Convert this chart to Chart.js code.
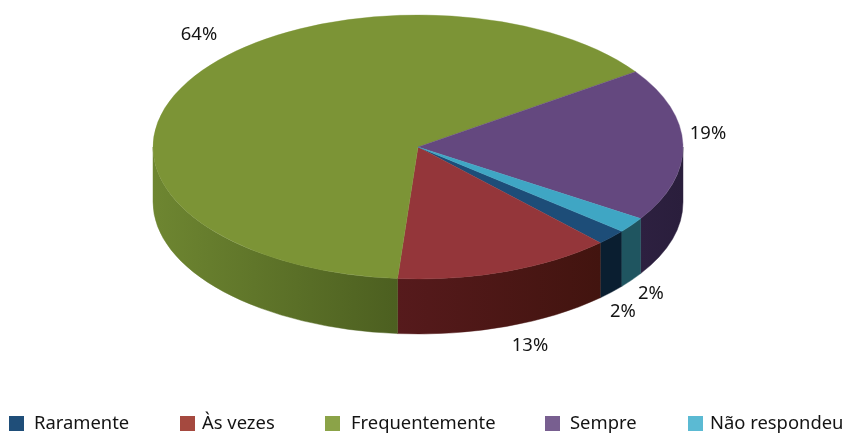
<!DOCTYPE html>
<html>
<head>
<meta charset="utf-8">
<style>
  body { margin: 0; background: #fff; }
</style>
<script src="https://cdn.jsdelivr.net/npm/chart.js@4"></script>
</head>
<body>
<canvas id="grafico" width="845" height="435"></canvas>
<script>
const categorias = ['Raramente', 'Às vezes', 'Frequentemente', 'Sempre', 'Não respondeu']
const valores = [1.9, 13.3, 64.1, 18.8, 1.9]
const rotulos = ['2%', '13%', '64%', '19%', '2%']

const coresTopo = ['#1d4d78', '#94363a', '#7c9436', '#64487f', '#3fa6c4']
const coresLegenda = ['#1f4e79', '#a5493f', '#8ba348', '#785f90', '#5bbad3']
// lateral: [esquerda, direita]
const coresLado = [
    ['#0a1e30', '#0a1e30'],
    ['#561a1c', '#42140f'],
    ['#6e8631', '#4c5f20'],
    ['#2d2040', '#2a1e3c'],
    ['#1f5560', '#1f5560']
]
const posRotulos = [[623, 312], [530, 346], [199, 35], [708, 134], [651, 294]]
const posCaixas = [9, 180, 325, 545, 688]
const posNomes = [34, 202, 351, 570, 710]

const centroX = 418
const centroY = 147
const raio = 265
const achatado = 132 / 265
const altura = 55

const fonte = '18.4px "Noto Sans"'

const pizza3d = {
    id: 'pizza3d',
    beforeDatasetsDraw(chart) {
        const { ctx } = chart
        const arcos = chart.getDatasetMeta(0).data

        ctx.save()
        ctx.translate(centroX - arcos[0].x, centroY)
        ctx.scale(1, achatado)
        ctx.translate(0, -arcos[0].y)

        // so a metade da frente aparece na lateral
        arcos.forEach((arco, i) => {
            const { x, y, startAngle, endAngle, outerRadius } = arco
            ;[0, -2 * Math.PI].forEach((volta) => {
                const de = Math.max(startAngle + volta, 0)
                const ate = Math.min(endAngle + volta, Math.PI)
                if (ate <= de) return

                const x0 = x + outerRadius * Math.cos(ate)
                const x1 = x + outerRadius * Math.cos(de)
                const grad = ctx.createLinearGradient(x0, 0, x1, 0)
                grad.addColorStop(0, coresLado[i][0])
                grad.addColorStop(1, coresLado[i][1])

                ctx.beginPath()
                ctx.arc(x, y, outerRadius, de, ate)
                ctx.arc(x, y + altura / achatado, outerRadius, ate, de, true)
                ctx.closePath()
                ctx.fillStyle = grad
                ctx.strokeStyle = grad
                ctx.lineWidth = 0.6
                ctx.fill()
                ctx.stroke()
            })
        })
    },
    afterDatasetsDraw(chart) {
        const { ctx } = chart
        ctx.restore()

        ctx.save()
        ctx.fillStyle = '#141414'
        ctx.font = fonte
        ctx.textBaseline = 'middle'

        ctx.textAlign = 'center'
        rotulos.forEach((texto, i) => {
            ctx.fillText(texto, posRotulos[i][0], posRotulos[i][1])
        })

        // legenda numa linha so, a do Chart.js quebra nessa largura
        ctx.textAlign = 'left'
        categorias.forEach((nome, i) => {
            ctx.fillStyle = coresLegenda[i]
            ctx.fillRect(posCaixas[i], 416, 15, 15)
            ctx.fillStyle = '#141414'
            ctx.fillText(nome, posNomes[i], 424)
        })
        ctx.restore()
    }
}

new Chart(document.getElementById('grafico'), {
    type: 'pie',
    data: {
        labels: categorias,
        datasets: [{
            data: valores,
            backgroundColor: coresTopo,
            borderColor: coresTopo,
            borderWidth: 0.5,
            radius: raio
        }]
    },
    options: {
        responsive: false,
        animation: false,
        rotation: 129.7,
        plugins: {
            tooltip: { enabled: false },
            legend: { display: false }
        }
    },
    plugins: [pizza3d]
})
</script>
</body>
</html>
